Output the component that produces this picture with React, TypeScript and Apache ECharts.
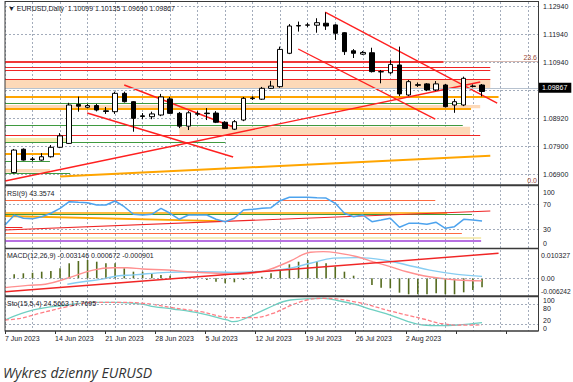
import React, { useEffect, useRef } from 'react';
import * as echarts from 'echarts';

const FONT = '"Liberation Sans", Arial, sans-serif';

// ---------- texts ----------
const headerText = '\u25BC EURUSD,Daily  1.10099 1.10135 1.09690 1.09867';
const rsiTitle = 'RSI(9) 43.3574';
const macdTitle = 'MACD(12,26,9) -0.003146 0.000672 -0.000901';
const stoTitle = 'Sto(15,5,4) 24.5663 17.7695';
const caption = 'Wykres dzienny EURUSD';

// ---------- axes ----------
const dateLabels = ['7 Jun 2023', '14 Jun 2023', '21 Jun 2023', '28 Jun 2023', '5 Jul 2023', '12 Jul 2023', '19 Jul 2023', '26 Jul 2023', '2 Aug 2023'];
const dateSteps = 10.64; // date label steps visible across the plot
const priceTicks = ['1.06900', '1.07900', '1.08920', '', '1.10940', '1.11940', '1.12940'];
const lastPrice = 1.09867;
const lastPriceLabel = '1.09867';
const priceMin = 1.06504;
const priceMax = 1.13084;
const barMin = -1;
const barMax = 57.1;
const gridEvery = 3; // vertical grid every 3 bars, first at bar 2
const gridFirst = 2;
const rsiTickLabels = [0, 30, 70, 100];
const rsiLevels = [30, 70];
const stoTickLabels = [0, 20, 80, 100];
const stoLevels = [20, 80];
const macdMin = -0.006242;
const macdMax = 0.010327;
const macdTickLabels = ['-0.006242', '0.00', '0.010327'];

// ---------- candles: [bar, open, close, low, high] ----------
const candles = [
  [0, 1.0695, 1.0776, 1.0692, 1.0780],
  [1, 1.0779, 1.0740, 1.0738, 1.0782],
  [2, 1.0742, 1.0744, 1.0737, 1.0751],
  [3, 1.0740, 1.0752, 1.0738, 1.0765],
  [4, 1.0752, 1.0786, 1.0749, 1.0794],
  [5, 1.0786, 1.0827, 1.0783, 1.0837],
  [6, 1.0800, 1.0938, 1.0798, 1.0946],
  [7, 1.0940, 1.0934, 1.0914, 1.0968],
  [8, 1.0930, 1.0936, 1.0926, 1.0942],
  [9, 1.0936, 1.0920, 1.0915, 1.0942],
  [10, 1.0917, 1.0915, 1.0906, 1.0931],
  [11, 1.0914, 1.0980, 1.0906, 1.0986],
  [12, 1.0980, 1.0950, 1.0947, 1.0986],
  [13, 1.0950, 1.0890, 1.0842, 1.0952],
  [14, 1.0899, 1.0897, 1.0888, 1.0909],
  [15, 1.0896, 1.0906, 1.0887, 1.0914],
  [16, 1.0902, 1.0967, 1.0898, 1.0978],
  [17, 1.0960, 1.0908, 1.0906, 1.0967],
  [18, 1.0908, 1.0862, 1.0855, 1.0913],
  [19, 1.0862, 1.0910, 1.0848, 1.0916],
  [20, 1.0905, 1.0907, 1.0898, 1.0916],
  [21, 1.0909, 1.0907, 1.0884, 1.0927],
  [22, 1.0909, 1.0876, 1.0873, 1.0916],
  [23, 1.0876, 1.0854, 1.0852, 1.0880],
  [24, 1.0851, 1.0878, 1.0848, 1.0884],
  [25, 1.0884, 1.0962, 1.0880, 1.0967],
  [26, 1.0961, 1.0963, 1.0956, 1.0969],
  [27, 1.0959, 1.0998, 1.0956, 1.1003],
  [28, 1.0998, 1.1006, 1.0996, 1.1025],
  [29, 1.1004, 1.1138, 1.1000, 1.1148],
  [30, 1.1124, 1.1222, 1.1121, 1.1229],
  [31, 1.1222, 1.1224, 1.1202, 1.1238],
  [32, 1.1225, 1.1226, 1.1218, 1.1233],
  [33, 1.1225, 1.1234, 1.1198, 1.1250],
  [34, 1.1232, 1.1222, 1.1208, 1.1271],
  [35, 1.1226, 1.1196, 1.1172, 1.1229],
  [36, 1.1198, 1.1130, 1.1118, 1.1200],
  [37, 1.1133, 1.1124, 1.1107, 1.1139],
  [38, 1.1121, 1.1127, 1.1118, 1.1132],
  [39, 1.1126, 1.1058, 1.1055, 1.1144],
  [40, 1.1058, 1.1057, 1.1016, 1.1064],
  [41, 1.1054, 1.1084, 1.1049, 1.1100],
  [42, 1.1082, 1.0978, 1.0970, 1.1148],
  [43, 1.0974, 1.1022, 1.0970, 1.1028],
  [44, 1.1011, 1.1009, 1.1003, 1.1019],
  [45, 1.1014, 1.0992, 1.0988, 1.1017],
  [46, 1.0992, 1.1014, 1.0988, 1.1024],
  [47, 1.1010, 1.0932, 1.0929, 1.1014],
  [48, 1.0938, 1.0950, 1.0910, 1.0960],
  [49, 1.0938, 1.1034, 1.0934, 1.1040],
  [50, 1.1006, 1.1005, 1.1001, 1.1012],
  [51, 1.10099, 1.09867, 1.09690, 1.10135],
];

// ---------- main panel objects ----------
// horizontal levels: [price, fromBar, toBar]
const redLevels = [
  [1.10729, -1, 51.9],
  [1.10639, -1, 51.9],
  [1.10315, -1, 51.9],
  [1.09981, -1, 52.8],
  [1.08301, -1, 50.8],
];
const redThickLevels = [[1.1094, -1, 46.8]];
const orangeLevels = [
  [1.09693, -1, 52.8],
  [1.09262, -1, 49.8],
  [1.07618, -1, 5.0],
];
const greenLevels = [
  [1.09441, -1, 48.9],
  [1.08661, -1, 48.9],
  [1.0805, -1, 23],
  [1.07366, -1, 3.9],
  [1.06935, -1, 6.1],
];
// bands: [lowPrice, highPrice, fromBar, toBar]
const peachBands = [
  [1.09981, 1.10315, -1, 51.9],
  [1.09262, 1.0938, -1, 50.8],
  [1.08301, 1.086, 18, 49.7],
  [1.06953, 1.07079, -1, 3.9],
];
const yellowBands = [[1.0805, 1.08193, -1, 6.1]];
// trendlines: [bar1, price1, bar2, price2]
const redTrends = [
  [-1, 1.06647, 50.8, 1.10207],
  [12.0, 1.10099, 23.87, 1.08589],
  [7.96, 1.09092, 23.87, 1.0751],
  [33.9, 1.12724, 52.65, 1.09452],
  [30.96, 1.11394, 45.9, 1.08877],
];
const orangeTrends = [[5.0, 1.06809, 51.9, 1.07557]];
// fibo levels: [price, fromBar, label]
const fiboLevels: [number, number, string][] = [
  [1.1094, 46.8, '23.6'],
  [1.0651, 46.8, '0.0'],
];

// ---------- RSI ----------
const rsiValues = [37, 53, 48, 47, 50.5, 56, 64, 74.7, 73.7, 73, 69.4, 69.4, 75.8, 66.6, 54.4, 53.2, 54.4, 64, 56, 46.3, 53.2, 53.2, 53.2, 46.3, 42.4, 48, 61.3, 62.4, 64, 65, 76.3, 81.8, 82, 82, 81, 80.6, 72, 56, 50.5, 53.2, 42.4, 45, 48, 33.4, 39.8, 39.8, 38.2, 41.5, 31.8, 34.4, 46.3, 45, 43.36];
const rsiFirstBar = -1;
const rsiTomato = [[76.3, -1, 45.9], [23.7, -1, 48.8]];
const rsiOrange = [[56.5, -1, 47.2]];
const rsiGreen = [[53.7, -1, 49.9]];
const rsiRedShort = [[33.4, -1, 0.9]];
const rsiYellow = [[16.1, -1, 50.9]];
const rsiPurple = [[12.4, -1, 50.9]];
const rsiOrangeTrend = [[-1, 51.6, 22.5, 43.5]];
const rsiRedTrend = [[-1, 29.0, 51.9, 59.7]];

// ---------- MACD ----------
const macdHist = [0.00141, 0.00176, 0.00197, 0.00233, 0.00257, 0.00353, 0.00529, 0.0061, 0.00645, 0.00585, 0.00529, 0.00529, 0.00353, 0.00233, 0.00233, 0.00176, 0.00116, 0.00092, 0.0001, 0.00005, -0.0001, -0.0006, -0.0012, -0.00176, -0.00141, -0.0006, -0.0001, 0.00056, 0.00176, 0.00293, 0.00494, 0.00585, 0.00645, 0.0061, 0.00529, 0.00409, 0.00233, 0.00092, 0.0001, -0.00236, -0.00331, -0.00353, -0.00508, -0.00564, -0.00564, -0.00564, -0.00529, -0.00564, -0.00564, -0.00494, -0.00412, -0.003146];
const macdPink = [[-1, -0.0033], [1.5, -0.0025], [3.4, -0.0021], [5.8, 0], [8.6, 0.0029], [10.8, 0.0037], [12.3, 0.0037], [14, 0.0033], [16.7, 0.0029], [18.9, 0.0023], [22.1, 0.0018], [24.6, 0.0014], [27.6, 0.0029], [30.1, 0.0061], [32.3, 0.0092], [33.7, 0.0094], [35.5, 0.0088], [37.4, 0.0076], [39.1, 0.0059], [41, 0.0041], [42.8, 0.0023], [44.6, 0.0009], [46.4, 0], [48.3, -0.0006], [51, -0.000901]];
const macdBlue = [[5.8, -0.0021], [7.5, -0.0012], [9.4, -0.0004], [11.2, 0.0008], [13, 0.0012], [16.7, 0.0021], [20.3, 0.0023], [23.9, 0.0021], [27.6, 0.0026], [30.1, 0.0036], [32.3, 0.0053], [34.8, 0.0071], [37.4, 0.0073], [40.2, 0.0065], [42.8, 0.0047], [45.3, 0.0029], [48.3, 0.0014], [51, 0.000672]];
const macdRedTrend = [[-1, -0.00472, 52.8, 0.00881]];

// ---------- Stochastic ----------
const stoMain = [[-1, 32.4], [2.1, 61.8], [5.8, 76.5], [8.6, 84.4], [11.2, 84.4], [14.1, 78.5], [15.2, 71.5], [17.3, 64.7], [20.3, 52], [23.2, 32.4], [23.9, 27.4], [25.4, 39.1], [27.6, 66.8], [30.1, 91.2], [33.7, 96.2], [35.5, 88.2], [37.4, 76.5], [39.1, 61.8], [41, 47], [42.8, 29.4], [44.6, 17.6], [46.4, 15.6], [48.3, 17.6], [51, 24.57]];
const stoSignal = [[-1, 32.4], [0.7, 37.4], [2.8, 52], [5.8, 71.5], [8.6, 84.4], [11.2, 84.4], [14.1, 81.5], [17.3, 68.5], [20.3, 56.8], [23.9, 39.1], [26.1, 39.1], [28.2, 52], [30.1, 74.4], [31.9, 91.2], [33.7, 96.2], [37.4, 84.4], [41, 58.8], [44.6, 35.3], [46.4, 22.6], [48.3, 17.6], [51, 17.77]];

// ---------- layout ----------
const L = 5, R = 538, PW = R - L;
const P_MAIN = { top: 2, h: 183 };
const P_LBL = { top: 6, h: 168 };
const P_RSI = { top: 186, h: 62 };
const P_MACD = { top: 249, h: 47 };
const P_STO = { top: 297, h: 34 };

const GRID_COLOR = '#a3acbb';
const TXT = '#202028';

const seg = (arr: number[][]) => arr.map(([p, a, b]) => [{ coord: [a, p] }, { coord: [b, p] }]);
const trend = (arr: number[][]) => arr.map(([a, p, b, q]) => [{ coord: [a, p] }, { coord: [b, q] }]);
const mkLine = (data: any[], color: string, width: number, type: any = 'solid') => ({
  symbol: ['none', 'none'],
  silent: true,
  animation: false,
  label: { show: false },
  emphasis: { disabled: true },
  lineStyle: { color, width, type, opacity: 1 },
  data,
});
const helper = (xi: number, yi: number, extra: any, z = 3) => ({
  type: 'line',
  xAxisIndex: xi,
  yAxisIndex: yi,
  data: [],
  silent: true,
  z,
  ...extra,
});

function buildOption(): any {
  const hiddenX = (gridIndex: number) => ({ type: 'value', gridIndex, min: barMin, max: barMax, show: false });
  const lblStyle = { fontSize: 7, color: TXT, fontFamily: FONT };

  const gridLineAxisMax = (barMax - gridFirst) / gridEvery;
  const near = (a: number, b: number) => Math.abs(a - b) < 1e-9;

  const grids = [
    { left: L, top: P_MAIN.top, width: PW, height: P_STO.top + P_STO.h - P_MAIN.top },
    { left: L, top: P_MAIN.top, width: PW, height: P_MAIN.h },
    { left: L, top: P_LBL.top, width: PW, height: P_LBL.h },
    { left: L, top: P_RSI.top, width: PW, height: P_RSI.h },
    { left: L, top: P_MACD.top, width: PW, height: P_MACD.h },
    { left: L, top: P_STO.top, width: PW, height: P_STO.h },
  ].map((g) => ({ ...g, containLabel: false, outerBoundsMode: 'none' }));

  const xAxis = [
    {
      type: 'value', gridIndex: 0, position: 'top', min: -1, max: gridLineAxisMax, interval: 1,
      axisLine: { show: false }, axisTick: { show: false }, axisLabel: { show: false },
      splitLine: { show: true, lineStyle: { color: GRID_COLOR, type: [2, 2], width: 1 } },
    },
    {
      type: 'value', gridIndex: 0, position: 'bottom', min: 0, max: dateSteps, interval: 1,
      axisLine: { show: false },
      axisTick: { show: true, length: 3, lineStyle: { color: '#333', width: 1 } },
      axisLabel: { show: true, align: 'left', margin: 4, ...lblStyle, formatter: (v: number) => dateLabels[Math.round(v)] ?? '', showMaxLabel: false },
      splitLine: { show: false },
    },
    hiddenX(1),
    { type: 'value', gridIndex: 2, min: 0, max: 1, show: false },
    hiddenX(3),
    hiddenX(4),
    hiddenX(5),
  ];

  const stoRich = {
    p100: { ...lblStyle, padding: [6, 0, 0, 0] },
    p80: { ...lblStyle, padding: [9.5, 0, 0, 0] },
    p20: { ...lblStyle, padding: [0, 0, 8.4, 0] },
    p0: { ...lblStyle, padding: [0, 0, 5, 0] },
  };

  const yAxis = [
    { type: 'value', gridIndex: 0, min: 0, max: 1, show: false },
    { type: 'value', gridIndex: 1, min: priceMin, max: priceMax, show: false, scale: true },
    {
      type: 'value', gridIndex: 2, position: 'right', min: 0, max: priceTicks.length - 1, interval: 1,
      axisLine: { show: false }, axisTick: { show: false },
      axisLabel: { show: true, margin: 5, ...lblStyle, formatter: (v: number) => priceTicks[Math.round(v)] ?? '' },
      splitLine: { show: true, lineStyle: { color: GRID_COLOR, type: [2, 2], width: 1 } },
    },
    {
      type: 'value', gridIndex: 3, position: 'right', min: 0, max: 100, interval: 10,
      axisLine: { show: false }, axisTick: { show: false }, splitLine: { show: false },
      axisLabel: {
        show: true, margin: 5, ...lblStyle,
        formatter: (v: number) => !rsiTickLabels.includes(v) ? '' : v === 100 ? '{dn|100}' : v === 0 ? '{up|0}' : String(v),
        rich: { dn: { ...lblStyle, padding: [12, 0, 0, 0] }, up: { ...lblStyle, padding: [0, 0, 10, 0] } },
      },
    },
    {
      type: 'value', gridIndex: 4, position: 'right', min: macdMin, max: macdMax,
      axisLine: { show: false }, axisTick: { show: false }, splitLine: { show: false },
      axisLabel: {
        show: true, margin: 3, ...lblStyle, showMinLabel: true, showMaxLabel: true,
        formatter: (v: number) => near(v, macdMax) ? `{dn|${macdTickLabels[2]}}` : near(v, macdMin) ? `{up|${macdTickLabels[0]}}` : Math.abs(v) < 1e-12 ? macdTickLabels[1] : '',
        rich: {
          dn: { ...lblStyle, padding: [12, 0, 0, 0] },
          up: { ...lblStyle, fontSize: 6.6, padding: [0, 0, 9, 0] },
        },
      },
    },
    {
      type: 'value', gridIndex: 5, position: 'right', min: 0, max: 100, interval: 10,
      axisLine: { show: false }, axisTick: { show: false }, splitLine: { show: false },
      axisLabel: {
        show: true, margin: 5, ...lblStyle,
        formatter: (v: number) => stoTickLabels.includes(v) ? `{p${v}|${v}}` : '',
        rich: stoRich,
      },
    },
  ];

  const RED = '#f02525';
  const series: any[] = [
    // main: bands
    helper(2, 1, {
      markArea: {
        silent: true, animation: false, label: { show: false },
        itemStyle: { color: '#fdd9b8', opacity: 1 },
        data: peachBands.map(([lo, hi, a, b]) => [{ coord: [a, hi] }, { coord: [b, lo] }]),
      },
    }, 1),
    helper(2, 1, {
      markArea: {
        silent: true, animation: false, label: { show: false },
        itemStyle: { color: '#f5eeb0', opacity: 1 },
        data: yellowBands.map(([lo, hi, a, b]) => [{ coord: [a, hi] }, { coord: [b, lo] }]),
      },
    }, 1),
    // fibo
    helper(2, 1, {
      markLine: {
        ...mkLine(fiboLevels.map(([p, a, t]) => [
          { coord: [a, p], label: { show: true, position: 'insideEndTop', formatter: t, color: '#9b4a3a', fontSize: 7, fontFamily: FONT, distance: [1, 1] } },
          { coord: [barMax, p] },
        ]), '#d7b8b0', 1),
      },
    }, 2),
    helper(2, 1, { markLine: mkLine(seg(greenLevels), '#3f9a3f', 1) }, 3),
    helper(2, 1, { markLine: mkLine(seg(orangeLevels), '#ffa500', 2) }, 3),
    helper(2, 1, { markLine: mkLine(seg(redLevels), RED, 1) }, 3),
    helper(2, 1, { markLine: mkLine(seg(redThickLevels), '#f03838', 2) }, 3),
    helper(2, 1, { markLine: mkLine(trend(orangeTrends), '#ffa500', 2) }, 3),
    helper(2, 1, { markLine: mkLine(trend(redTrends), '#ff2020', 1.4) }, 4),
    {
      type: 'candlestick', xAxisIndex: 2, yAxisIndex: 1, z: 6,
      data: candles, encode: { x: 0, y: [1, 2, 3, 4] },
      barWidth: 5,
      itemStyle: { color: '#ffffff', color0: '#000000', borderColor: '#000000', borderColor0: '#000000', borderWidth: 1 },
      markLine: {
        symbol: ['none', 'none'], silent: true, animation: false,
        lineStyle: { color: '#b7c2cf', width: 1, type: 'solid' },
        label: {
          show: true, position: 'end', formatter: lastPriceLabel, distance: 1,
          backgroundColor: '#000', color: '#fff', fontSize: 7, fontFamily: FONT, padding: [2, 4, 1, 3],
        },
        data: [{ yAxis: lastPrice }],
      },
    },
    // RSI
    helper(4, 3, { markLine: mkLine(rsiLevels.map((v) => ({ yAxis: v })), GRID_COLOR, 1, [2, 2]) }, 1),
    helper(4, 3, { markLine: mkLine(seg(rsiTomato), '#ff6a40', 1.2) }, 2),
    helper(4, 3, { markLine: mkLine(seg(rsiOrange), '#ffa500', 1.5) }, 2),
    helper(4, 3, { markLine: mkLine(seg(rsiGreen), '#3f9a3f', 1.2) }, 2),
    helper(4, 3, { markLine: mkLine(seg(rsiRedShort), RED, 1) }, 2),
    helper(4, 3, { markLine: mkLine(seg(rsiYellow), '#f2e6a0', 1.5) }, 2),
    helper(4, 3, { markLine: mkLine(seg(rsiPurple), '#a040d8', 1.5) }, 2),
    helper(4, 3, { markLine: mkLine(trend(rsiOrangeTrend), '#ffa500', 1.8) }, 2),
    helper(4, 3, { markLine: mkLine(trend(rsiRedTrend), RED, 1.2) }, 2),
    {
      type: 'line', xAxisIndex: 4, yAxisIndex: 3, z: 5, symbol: 'none', silent: true,
      data: rsiValues.map((v, k) => [k + rsiFirstBar, v]),
      lineStyle: { color: '#4da3ee', width: 1.5 },
    },
    // MACD
    helper(5, 4, { markLine: mkLine([{ yAxis: 0 }], GRID_COLOR, 1, [2, 2]) }, 1),
    {
      type: 'bar', xAxisIndex: 5, yAxisIndex: 4, z: 3, silent: true,
      data: macdHist.map((v, k) => [k, v]), barWidth: 1.6,
      itemStyle: { color: '#556b1f' },
    },
    {
      type: 'line', xAxisIndex: 5, yAxisIndex: 4, z: 4, symbol: 'none', silent: true, smooth: 0.4,
      data: macdBlue, lineStyle: { color: '#86cdf2', width: 1.4 },
    },
    {
      type: 'line', xAxisIndex: 5, yAxisIndex: 4, z: 4, symbol: 'none', silent: true, smooth: 0.4,
      data: macdPink, lineStyle: { color: '#ff9090', width: 1.4 },
    },
    helper(5, 4, { markLine: mkLine(trend(macdRedTrend), RED, 1.5) }, 5),
    // Stochastic
    helper(6, 5, { markLine: mkLine(stoLevels.map((v) => ({ yAxis: v })), GRID_COLOR, 1, [2, 2]) }, 1),
    {
      type: 'line', xAxisIndex: 6, yAxisIndex: 5, z: 4, symbol: 'none', silent: true, smooth: 0.4,
      data: stoMain, lineStyle: { color: '#6fd0c2', width: 1.3 },
    },
    {
      type: 'line', xAxisIndex: 6, yAxisIndex: 5, z: 4, symbol: 'none', silent: true, smooth: 0.4,
      data: stoSignal, lineStyle: { color: '#ff7f86', width: 1.3, type: [4, 2] },
    },
  ];

  const frame = '#3a3a3a';
  const hLine = (y: number, w: number) => ({ type: 'line', z: 100, silent: true, shape: { x1: L, y1: y, x2: R, y2: y }, style: { stroke: frame, lineWidth: w } });
  const text = (x: number, y: number, t: string, extra: any = {}) => ({
    type: 'text', z: 101, silent: true, x, y,
    style: { text: t, fill: TXT, fontSize: 7, fontFamily: FONT, textVerticalAlign: 'middle', ...extra },
  });

  const graphic = [
    hLine(1.5, 1),
    hLine(185.3, 2),
    hLine(248.5, 1.5),
    hLine(296.3, 2),
    hLine(331, 1.5),
    { type: 'line', z: 100, silent: true, shape: { x1: L, y1: 1, x2: L, y2: 331.5 }, style: { stroke: frame, lineWidth: 1 } },
    { type: 'line', z: 100, silent: true, shape: { x1: R + 0.5, y1: 1, x2: R + 0.5, y2: 331.5 }, style: { stroke: frame, lineWidth: 1 } },
    text(8, 8, headerText),
    text(7, 193, rsiTitle),
    text(7, 255.5, macdTitle),
    text(7, 303.5, stoTitle),
    {
      type: 'text', z: 101, silent: true, x: 3, y: 372,
      style: { text: caption, fill: '#333333', fontSize: 14, fontStyle: 'italic', fontFamily: '"Open Sans", sans-serif', textVerticalAlign: 'middle' },
    },
  ];

  return {
    animation: false,
    backgroundColor: '#ffffff',
    grid: grids,
    xAxis,
    yAxis,
    series,
    graphic,
  };
}

export default function App() {
  const ref = useRef<HTMLDivElement>(null);
  useEffect(() => {
    if (!ref.current) return;
    const chart = echarts.init(ref.current, undefined, { renderer: 'svg' });
    chart.setOption(buildOption());
    return () => chart.dispose();
  }, []);
  return (
    <div
      ref={ref}
      style={{ position: 'absolute', left: 0, top: 0, width: 573, height: 382, background: '#fff' }}
    />
  );
}
